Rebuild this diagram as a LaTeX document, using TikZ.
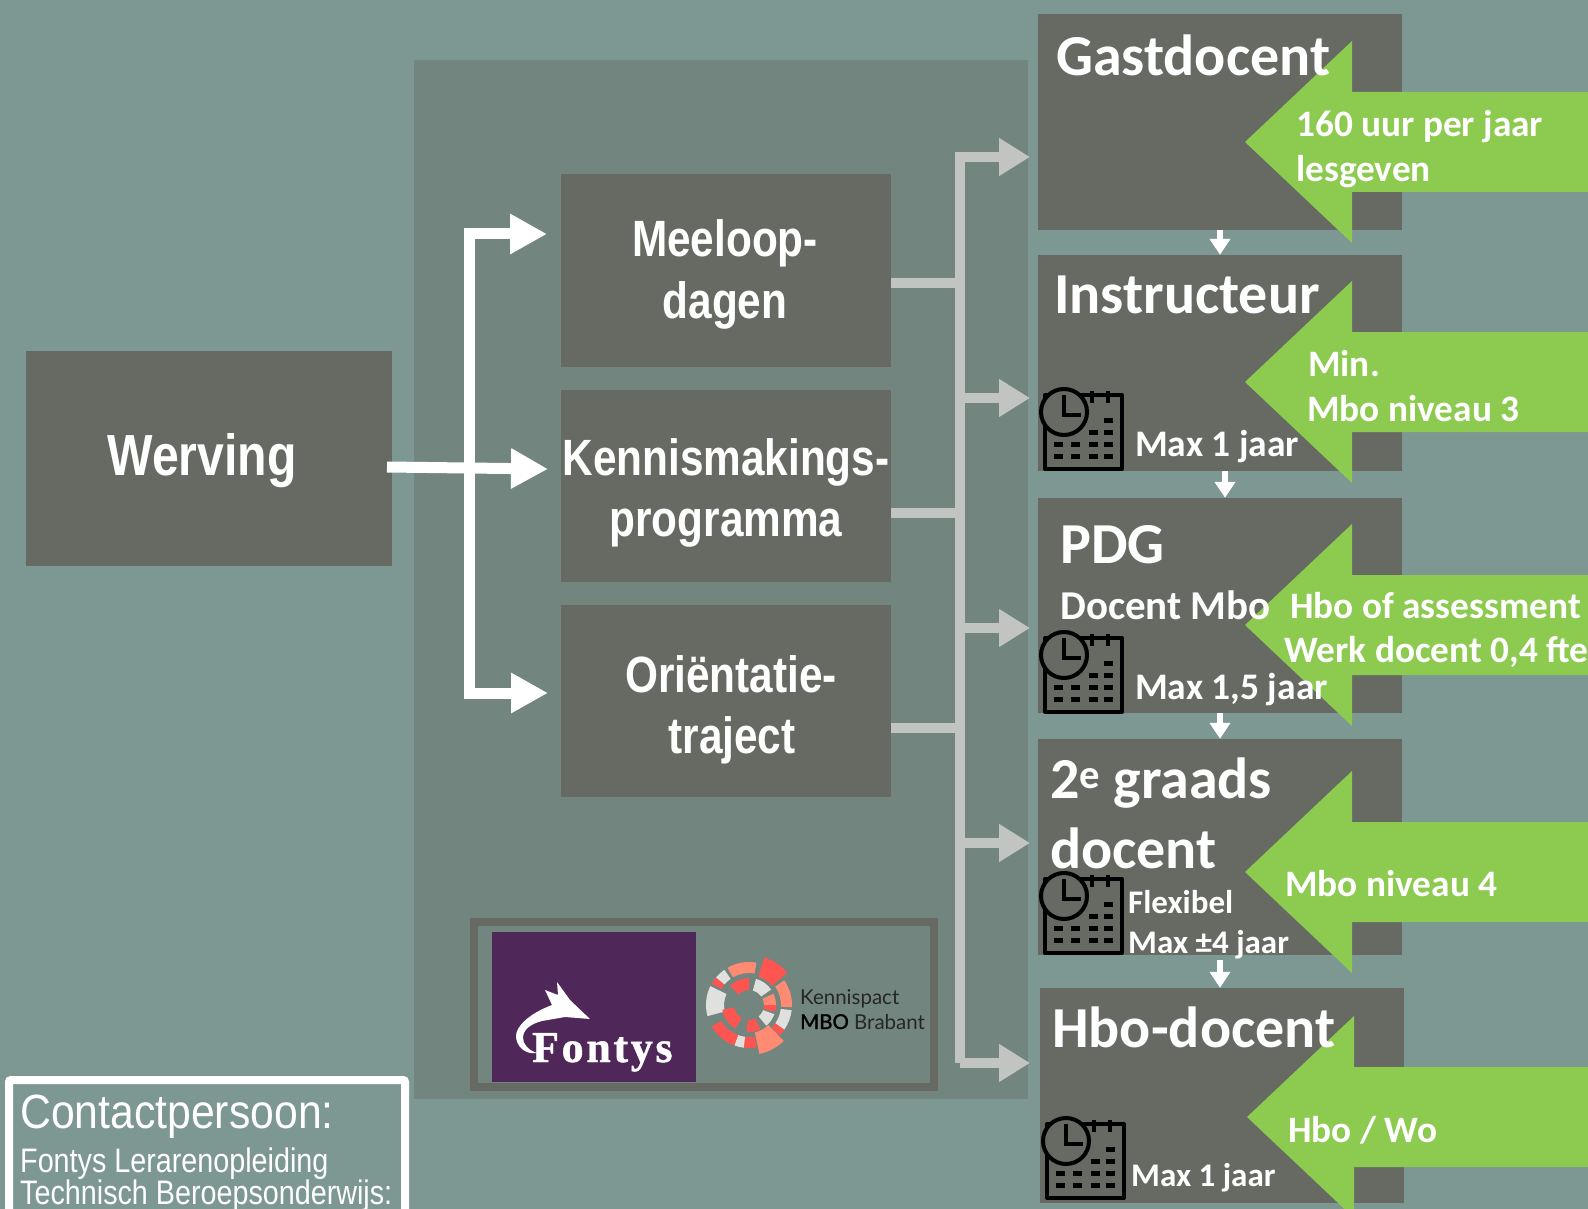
\documentclass[tikz,border=0pt]{standalone}
\usepackage{fontspec}
\usepackage{xcolor}
\usetikzlibrary{arrows.meta}
\setmainfont{Carlito}
\newfontfamily\narrowfont[FakeStretch=0.83]{Liberation Sans}
\newfontfamily\contactfont[FakeStretch=0.89]{Liberation Sans}
\newfontfamily\contactsub[FakeStretch=0.845]{Liberation Sans}
\newfontfamily\latofont{Lato}
\newfontfamily\mbofont[FakeBold=1.5]{Lato}
\newfontfamily\fontysfont[LetterSpace=6,FakeBold=1]{Liberation Serif}

\definecolor{bgteal}{HTML}{7D9792}
\definecolor{panelc}{HTML}{72857F}
\definecolor{boxc}{HTML}{666A62}
\definecolor{greenc}{HTML}{8CCB50}
\definecolor{greyline}{HTML}{C2C4C1}
\definecolor{purplec}{HTML}{4F2759}
\definecolor{redc}{HTML}{FF5550}
\definecolor{salmonc}{HTML}{FF8B72}
\definecolor{lightc}{HTML}{E0E0DE}

\tikzset{
	greybox/.style={fill=boxc, inner sep=0pt},
	lefttext/.style={text=white, inner sep=0pt, anchor=base, font=\narrowfont\bfseries\fontsize{51}{53}\selectfont},
	titletext/.style={text=white, inner sep=0pt, anchor=base west, font=\bfseries\fontsize{58}{60}\selectfont},
	smalltext/.style={text=white, inner sep=0pt, anchor=base west, font=\bfseries\fontsize{37.5}{40}\selectfont},
	flextext/.style={smalltext, font=\bfseries\fontsize{33}{36}\selectfont},
	greentext/.style={text=white, inner sep=0pt, anchor=base west, font=\bfseries\fontsize{37.3}{40}\selectfont},
	contacttext/.style={text=white, inner sep=0pt, anchor=base west, font=\contactsub\fontsize{34}{36}\selectfont},
	whitearrow/.style={draw=white, line width=11pt, arrows={-Triangle[length=37pt,width=38pt]}},
	greyarrow/.style={draw=greyline, line width=10pt, arrows={-Triangle[length=31pt,width=36pt]}},
	downarrow/.style={draw=white, line width=6pt, arrows={-Triangle[length=16pt,width=20pt]}},
	pics/calendar/.style={code={
		\begin{scope}[line width=4pt, draw=black]
		\draw[line join=round] (0,0) rectangle (77,74);
		\draw (47,-4) -- (47,8) (63,-4) -- (63,8);
		\draw[fill=boxc] (19,17) circle (23);
		\draw (19,0) -- (19,20) -- (36,20);
		\end{scope}
		\foreach \x/\y in {63/25, 48/37,63/37, 13/49,30/49,48/49,63/49, 13/61,30/61,48/61,63/61}
			\fill[black] (\x-4.5,\y-2.5) rectangle (\x+4.5,\y+2.5);
	}}
}

\begin{document}
\begin{tikzpicture}[x=1pt,y=-1pt]
	\useasboundingbox (0,0) rectangle (1588,1209);
	\fill[bgteal] (0,0) rectangle (1588,1209);
	\fill[panelc] (414,60) rectangle (1028,1099);

	% left column
	\draw (209,458.5) node[greybox, minimum width=366pt, minimum height=215pt] (werving) {}
		(726,270.5) node[greybox, minimum width=330pt, minimum height=193pt] (meeloop) {}
		(726,486) node[greybox, minimum width=330pt, minimum height=192pt] (kennis) {}
		(726,701) node[greybox, minimum width=330pt, minimum height=192pt] (orient) {};

	% right column
	\draw (1220,122) node[greybox, minimum width=364pt, minimum height=216pt] (gast) {}
		(1220,363) node[greybox, minimum width=364pt, minimum height=216pt] (instr) {}
		(1220,605.5) node[greybox, minimum width=364pt, minimum height=215pt] (pdg) {}
		(1220,847) node[greybox, minimum width=364pt, minimum height=216pt] (graads) {}
		(1222,1095.5) node[greybox, minimum width=364pt, minimum height=215pt] (hbo) {};

	\coordinate (wtipm) at (547,234);
	\coordinate (wtipk) at (548,469);
	\coordinate (wtipo) at (548,693);
	\coordinate (wup) at (469,234);
	\coordinate (wdown) at (469,693);
	\coordinate (wstart) at (387,467);
	\draw[whitearrow, {Triangle[length=37pt,width=38pt]}-{Triangle[length=37pt,width=38pt]}] (wtipm) -- (wup) -- (wdown) -- (wtipo);
	\draw[whitearrow] (wstart) -- (wtipk);

	\coordinate (gtop) at (960,157);
	\coordinate (g1) at (1030,157);
	\coordinate (g2) at (1030,398);
	\coordinate (g3) at (1030,628);
	\coordinate (g4) at (1030,843);
	\coordinate (g5) at (1030,1063);
	\coordinate (gbot) at (960,1063);
	\draw[greyarrow] (gbot) -- (gtop) -- (g1);
	\draw[greyarrow] (gbot) -- (g5);
	\draw[greyarrow] (gtop |- g2) -- (g2);
	\draw[greyarrow] (gtop |- g3) -- (g3);
	\draw[greyarrow] (gtop |- g4) -- (g4);
	\draw[draw=greyline, line width=10pt] ([yshift=-12pt]meeloop.east) -- ++(69,0);
	\draw[draw=greyline, line width=10pt] ([yshift=-27pt]kennis.east) -- ++(69,0);
	\draw[draw=greyline, line width=10pt] ([yshift=-27pt]orient.east) -- ++(69,0);

	\draw[downarrow] (gast.south) -- (instr.north);
	\draw[downarrow] ([xshift=5pt]instr.south) -- ([xshift=5pt]pdg.north);
	\draw[downarrow] (pdg.south) -- (graads.north);
	\draw[downarrow] ([yshift=-5pt]graads.south) -- ([xshift=-2pt]hbo.north);

	% green arrows
	\foreach \x/\y in {1245/142, 1245/382, 1245/625, 1245/872, 1247/1117}
		\fill[greenc] (\x,\y) -- (\x+107,\y-101) -- (\x+107,\y-50) -- (1588,\y-50) -- (1588,\y+50)
			-- (\x+107,\y+50) -- (\x+107,\y+101) -- cycle;

	% calendars
	\path (1045,395) pic {calendar};
	\path (1045,638) pic {calendar};
	\path (1045,879) pic {calendar};
	\path (1047,1124) pic {calendar};

	\node[lefttext, font=\narrowfont\bfseries\fontsize{58}{60}\selectfont] (wervingt) at (202,475) {Werving};
	\node[lefttext] (meeloopa) at (725,257) {Meeloop-};
	\node[lefttext] (meeloopb) at (725,318) {dagen};
	\node[lefttext] (kennisa) at (726,475) {Kennismakings-};
	\node[lefttext] (kennisb) at (726,536) {programma};
	\node[lefttext] (orienta) at (731,692) {Oriëntatie-};
	\node[lefttext] (orientb) at (732,753) {traject};

	\node[titletext] (gastt) at (1056,76) {Gastdocent};
	\node[titletext] (instrt) at (1054,313) {Instructeur};
	\node[titletext] (pdgt) at (1060,563) {PDG};
	\node[titletext] (graadsa) at (1050,798) {2\textsuperscript{e} graads};
	\node[titletext] (graadsb) at (1050,868) {docent};
	\node[titletext] (hbot) at (1052,1047) {Hbo-docent};

	\node[smalltext, font=\bfseries\fontsize{41}{43}\selectfont] (pdgsub) at (1060,619) {Docent Mbo};
	\node[smalltext] (instrmax) at (1135,456) {Max 1 jaar};
	\node[smalltext] (pdgmax) at (1135,699) {Max 1,5 jaar};
	\node[flextext] (graadsflex) at (1128,913) {Flexibel};
	\node[flextext] (graadsmax) at (1128,953) {Max ±4 jaar};
	\node[flextext] (hbomax) at (1131,1186) {Max 1 jaar};

	\node[greentext] (gasta) at (1296,137) {160 uur per jaar};
	\node[greentext] (gastb) at (1296,182) {lesgeven};
	\node[greentext] (instra) at (1308,376) {Min.};
	\node[greentext] (instrb) at (1307,421) {Mbo niveau 3};
	\node[greentext] (pdga) at (1290,618) {Hbo of assessment};
	\node[greentext] (pdgb) at (1284,662) {Werk docent 0,4 fte};
	\node[greentext] (graadsc) at (1285,896) {Mbo niveau 4};
	\node[greentext] (hboc) at (1288,1142) {Hbo / Wo};

	% logos
	\draw[boxc, line width=8pt] (474,922) rectangle (934,1087);
	\fill[purplec] (492,932) rectangle (696,1082);
	\fill[white] (557,982) -- (570,1000) -- (590,1019) -- (565,1017) -- (542,1021)
		.. controls (530,1024) and (523,1030) .. (523,1038)
		.. controls (523,1044) and (528,1050) .. (537,1053)
		.. controls (525,1055) and (516,1046) .. (516,1036)
		.. controls (516,1027) and (528,1014) .. (552,1005) -- (545,990) -- (558,995) -- cycle;
	\node[text=white, inner sep=0pt, anchor=base west, font=\fontysfont\bfseries\fontsize{44}{46}\selectfont] (fontys) at (532,1062) {Fontys};
	\begin{scope}[shift={(749,1005)}, x=1pt, y=1pt]
		\foreach \a/\b/\ri/\ro/\c in {40/72/30/50/redc, -3/35/32/43/salmonc, -35/-7/32/43/lightc, -45/-35/32/43/redc,
			-78/-46/28/50/salmonc, -97/-80/32/43/redc, -110/-97/32/43/lightc, -150/-110/32/43/redc,
			154/195/25/43/lightc, 140/150/32/43/redc, 125/140/32/43/lightc, 80/120/32/43/salmonc,
			90/135/15/27/redc, 35/75/15/27/lightc, 0/25/15/27/salmonc, -15/0/15/27/redc,
			-50/-20/15/27/lightc, -95/-65/15/27/redc, 190/240/15/27/redc}
			\fill[\c] (\a:\ro) arc[start angle=\a, end angle=\b, radius=\ro] -- (\b:\ri) arc[start angle=\b, end angle=\a, radius=\ri] -- cycle;
	\end{scope}
	\node[text=black!85, inner sep=0pt, anchor=base west, font=\latofont\fontsize{20.5}{24}\selectfont] (kennispact) at (800,1004) {Kennispact};
	\node[text=black!85, inner sep=0pt, anchor=base west, font=\latofont\fontsize{20.5}{24}\selectfont] (mbobrabant) at (800,1029) {{\mbofont\color{black}MBO} Brabant};

	% contact
	\draw[white, line width=8pt, rounded corners=2pt] (9,1080) rectangle (405,1240);
	\node[contacttext, font=\contactfont\fontsize{48}{50}\selectfont] (contacta) at (20,1128) {Contactpersoon:};
	\node[contacttext] (contactb) at (20,1172) {Fontys Lerarenopleiding};
	\node[contacttext] (contactc) at (20,1204) {Technisch Beroepsonderwijs:};
\end{tikzpicture}
\end{document}
